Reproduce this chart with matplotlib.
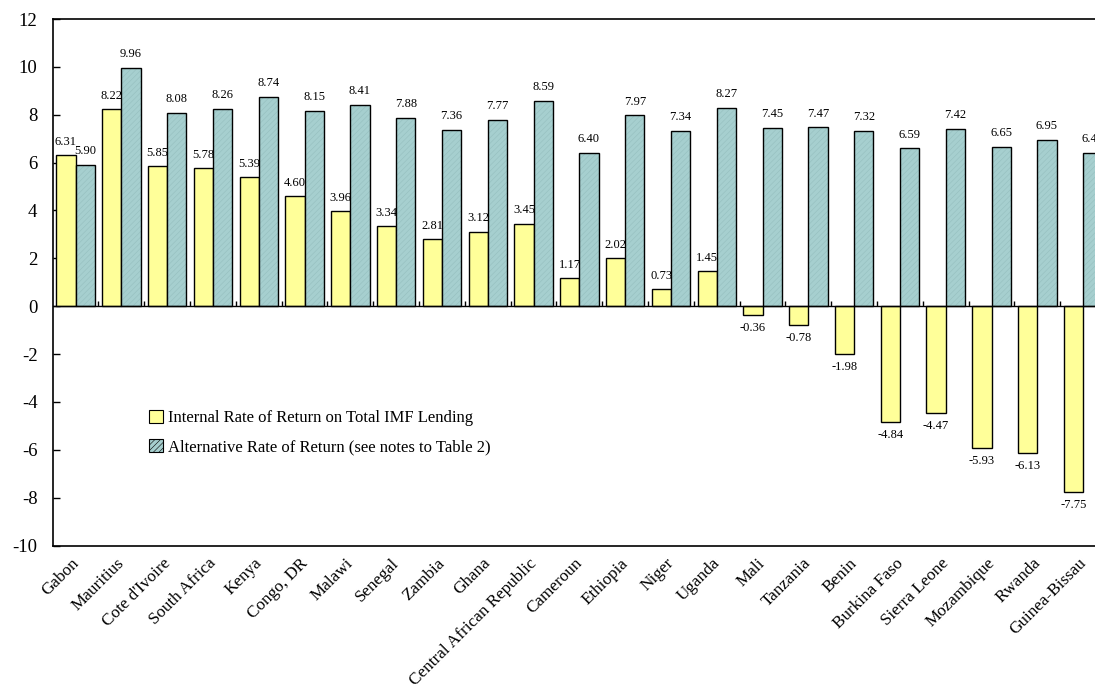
import matplotlib
matplotlib.use("Agg")
import matplotlib.pyplot as plt
import matplotlib.transforms as mtransforms
import numpy as np
from matplotlib.patches import Patch

countries = ["Gabon", "Mauritius", "Cote d'Ivoire", "South Africa", "Kenya", "Congo, DR",
             "Malawi", "Senegal", "Zambia", "Ghana", "Central African Republic", "Cameroun",
             "Ethiopia", "Niger", "Uganda", "Mali", "Tanzania", "Benin", "Burkina Faso",
             "Sierra Leone", "Mozambique", "Rwanda", "Guinea-Bissau"]
irr = [6.31, 8.22, 5.85, 5.78, 5.39, 4.60, 3.96, 3.34, 2.81, 3.12, 3.45, 1.17,
       2.02, 0.73, 1.45, -0.36, -0.78, -1.98, -4.84, -4.47, -5.93, -6.13, -7.75]
alt = [5.90, 9.96, 8.08, 8.26, 8.74, 8.15, 8.41, 7.88, 7.36, 7.77, 8.59, 6.40,
       7.97, 7.34, 8.27, 7.45, 7.47, 7.32, 6.59, 7.42, 6.65, 6.95, 6.40]
yticks = list(range(-10, 13, 2))
series_names = ["Internal Rate of Return on Total IMF Lending",
                "Alternative Rate of Return (see notes to Table 2)"]

plt.rcParams['font.family'] = ['Liberation Serif', 'DejaVu Serif']
plt.rcParams['hatch.linewidth'] = 0.4
plt.rcParams['hatch.color'] = '#93bdbd'

W, H = 1095, 688
fig = plt.figure(figsize=(W / 100, H / 100), dpi=100)
left_px, right_px, top_px, bot_px = 52.7, 1106.0, 19.0, 545.5
ax = fig.add_axes([left_px / W, 1 - bot_px / H, (right_px - left_px) / W, (bot_px - top_px) / H])

n = len(countries)
x = np.arange(n)
bw = 0.42
yellow = '#ffff99'
teal = '#a6cfcf'
b1 = ax.bar(x - bw / 2, irr, bw, color=yellow, edgecolor='black', linewidth=1.0, zorder=3)
b2 = ax.bar(x + bw / 2, alt, bw, color=teal, edgecolor='black', linewidth=1.0, zorder=3,
            hatch='//////')
for p in b2:
    p._hatch_color = matplotlib.colors.to_rgba('#95bfbf')

ax.set_xlim(-0.5, n - 0.5)
ax.set_ylim(-10, 12)
ax.set_yticks(yticks)
ax.set_yticklabels([str(v) for v in yticks], fontsize=13.5)
ax.tick_params(axis='y', direction='in', length=5, width=1, pad=11)

ax.set_xticks(x)
ax.set_xticklabels(countries, rotation=45, ha='right', rotation_mode='anchor', fontsize=12.3)
ax.tick_params(axis='x', length=0, pad=7)
shift = mtransforms.ScaledTranslation(-5 / 100, 0, fig.dpi_scale_trans)
for lab in ax.get_xticklabels():
    lab.set_transform(lab.get_transform() + shift)

ax.axhline(0, color='black', linewidth=1.0, zorder=4)
ax.vlines(np.arange(n - 1) + 0.5, 0, 0.22, color='black', linewidth=1.0, zorder=4)

for s in ['left', 'top', 'bottom']:
    ax.spines[s].set_linewidth(1.2)
ax.spines['right'].set_visible(False)

for xi, v in zip(x - bw / 2, irr):
    off = 9.5 if v >= 0 else -9.5
    ax.annotate(f"{v:.2f}", (xi, v), xytext=(0, off), textcoords='offset points',
                ha='center', va='center', fontsize=9, zorder=5)
for xi, v in zip(x + bw / 2, alt):
    ax.annotate(f"{v:.2f}", (xi, v), xytext=(0, 10), textcoords='offset points',
                ha='center', va='center', fontsize=9, zorder=5)

handles = [Patch(facecolor=yellow, edgecolor='black', linewidth=0.8),
           Patch(facecolor=teal, edgecolor='black', linewidth=0.8, hatch='//////')]
leg = fig.legend(handles, series_names, loc='upper left',
                 bbox_to_anchor=(149 / W, 1 - 410 / H), frameon=False,
                 fontsize=12, handlelength=0.85, handleheight=0.85, handletextpad=0.3,
                 borderpad=0, borderaxespad=0, labelspacing=0.75)

fig.savefig('out.png', dpi=100)
